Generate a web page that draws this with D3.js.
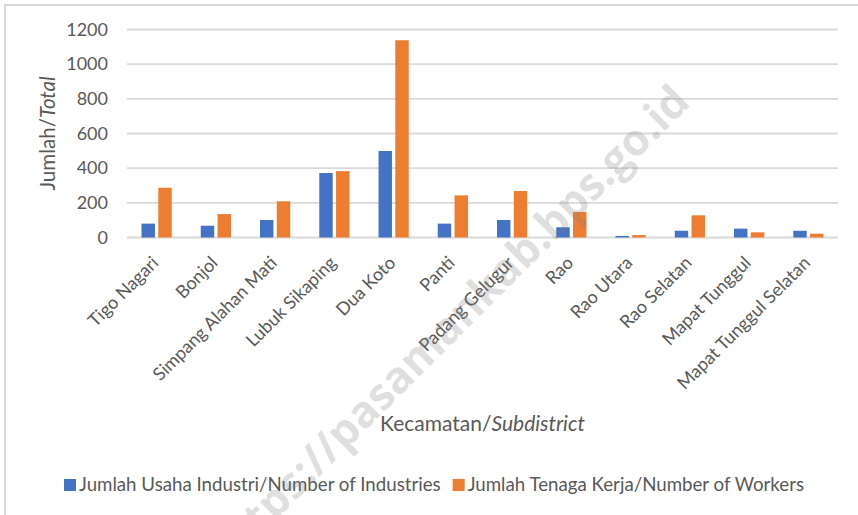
<!DOCTYPE html>
<html>
<head>
<meta charset="utf-8">
<script src="https://cdn.jsdelivr.net/npm/d3@7"></script>
<style>
  body { margin: 0; background: #fff; }
  svg { display: block; }
  text { font-family: Lato, "Open Sans", sans-serif; fill: #595959; }
</style>
</head>
<body>
<svg width="858" height="515"></svg>
<script>
// data
var kecamatan = ["Tigo Nagari", "Bonjol", "Simpang Alahan Mati", "Lubuk Sikaping", "Dua Koto",
    "Panti", "Padang Gelugur", "Rao", "Rao Utara", "Rao Selatan", "Mapat Tunggul", "Mapat Tunggul Selatan"];
var usahaIndustri = [80, 68, 101, 372, 499, 80, 101, 59, 9, 39, 51, 39];
var tenagaKerja = [287, 135, 209, 383, 1138, 243, 268, 147, 14, 128, 30, 22];
var yTicks = [0, 200, 400, 600, 800, 1000, 1200];
var seriesNames = ["Jumlah Usaha Industri/Number of Industries", "Jumlah Tenaga Kerja/Number of Workers"];
var seriesColors = ["#4472C4", "#ED7D31"];

var svg = d3.select("svg"),
    width = +svg.attr("width"),
    height = +svg.attr("height");

var plot = { left: 127, right: 838, top: 29.5, bottom: 237.5 };

// chart frame (only top and left edges fall inside the picture)
svg.append("path")
    .attr("d", "M5," + height + "V5H" + width)
    .attr("fill", "none")
    .attr("stroke", "#d9d9d9")
    .attr("stroke-width", 2);

var y = d3.scaleLinear()
    .domain([0, 1200])
    .range([plot.bottom, plot.top]);

var x0 = d3.scaleBand()
    .domain(kecamatan)
    .range([plot.left, plot.right])
    .paddingInner(0.49)
    .paddingOuter(0.245);

var x1 = d3.scaleBand()
    .domain([0, 1])
    .range([0, x0.bandwidth()])
    .paddingInner(0.2);

// gridlines
svg.append("g")
    .selectAll("line")
    .data(yTicks)
    .enter().append("line")
    .attr("x1", plot.left)
    .attr("x2", plot.right)
    .attr("y1", d => y(d))
    .attr("y2", d => y(d))
    .attr("stroke", "#d9d9d9")
    .attr("stroke-width", 1.8);

// y axis labels
var yAxis = svg.append("g")
    .attr("transform", "translate(" + (plot.left - 11) + ",0)")
    .call(d3.axisLeft(y).tickValues(yTicks).tickFormat(d3.format("d")).tickSize(0).tickPadding(8));
yAxis.select(".domain").remove();
yAxis.selectAll("text")
    .attr("font-size", 18)
    .attr("fill", "#595959")
    .style("font-family", "Lato, 'Open Sans', sans-serif");

// bars
var rows = kecamatan.map((k, i) => ({ name: k, values: [usahaIndustri[i], tenagaKerja[i]] }));

var groups = svg.append("g")
    .selectAll("g")
    .data(rows)
    .enter().append("g")
    .attr("transform", d => "translate(" + x0(d.name) + ",0)");

groups.selectAll("rect")
    .data(d => d.values.map((v, s) => ({ s: s, v: v })))
    .enter().append("rect")
    .attr("x", d => x1(d.s))
    .attr("width", x1.bandwidth())
    .attr("y", d => y(d.v))
    .attr("height", d => y(0) - y(d.v))
    .attr("fill", d => seriesColors[d.s]);

// category labels, rotated
svg.append("g")
    .selectAll("text")
    .data(kecamatan)
    .enter().append("text")
    .attr("transform", d => "translate(" + (x0(d) + x0.bandwidth() / 2 + 3) + ",264) rotate(-45)")
    .attr("text-anchor", "end")
    .attr("font-size", 18)
    .text(d => d);

// axis titles
var xTitle = svg.append("text")
    .attr("x", (plot.left + plot.right) / 2)
    .attr("y", 431)
    .attr("text-anchor", "middle")
    .attr("font-size", 21);
xTitle.append("tspan").text("Kecamatan/");
xTitle.append("tspan").attr("font-style", "italic").text("Subdistrict");

var yTitle = svg.append("text")
    .attr("transform", "translate(55," + (plot.top + plot.bottom) / 2 + ") rotate(-90)")
    .attr("text-anchor", "middle")
    .attr("font-size", 20.5);
yTitle.append("tspan").text("Jumlah/");
yTitle.append("tspan").attr("font-style", "italic").text("Total");

// legend
var legend = svg.append("g").attr("transform", "translate(0,491)");
var lx = 64;
seriesNames.forEach(function (name, i) {
    legend.append("rect")
        .attr("x", lx)
        .attr("y", -12)
        .attr("width", 12)
        .attr("height", 12)
        .attr("fill", seriesColors[i]);
    var t = legend.append("text")
        .attr("x", lx + 15)
        .attr("y", 0)
        .attr("font-size", 18.7)
        .text(name);
    lx += 15 + t.node().getComputedTextLength() + 12;
});

// watermark
svg.append("text")
    .attr("transform", "translate(692,104) rotate(-45)")
    .attr("text-anchor", "end")
    .attr("font-size", 44)
    .attr("font-weight", "bold")
    .style("font-family", "'Open Sans', sans-serif")
    .style("fill", "#808080")
    .style("fill-opacity", 0.25)
    .text("https://pasamankab.bps.go.id");
</script>
</body>
</html>
